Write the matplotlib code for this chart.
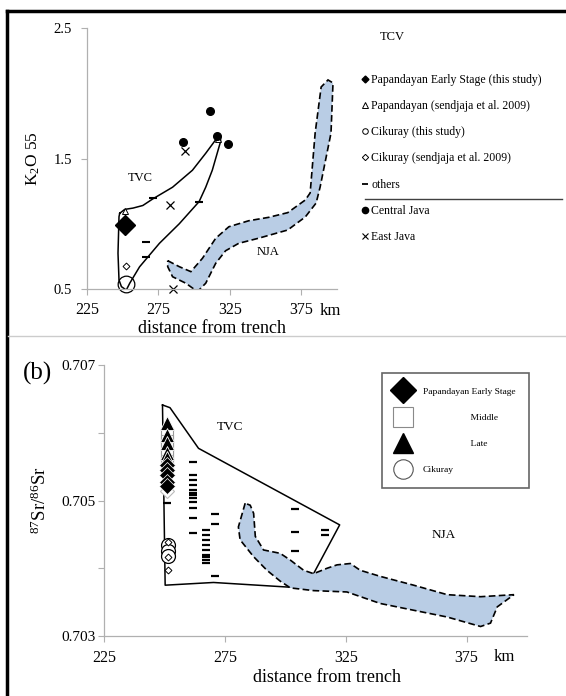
import matplotlib
matplotlib.use("Agg")
import matplotlib.pyplot as plt
from matplotlib.lines import Line2D

plt.rcParams['font.family'] = ['Liberation Serif', 'DejaVu Serif']
plt.rcParams['mathtext.fontset'] = 'custom'
plt.rcParams['mathtext.rm'] = 'Liberation Serif'

# ---------------- panel (a): K2O 55 vs distance from trench ----------------
early_x = [251.4]
early_y = [0.99]
pap_s_x = [251.4, 316.5]          # Papandayan (sendjaja et al. 2009)
pap_s_y = [1.10, 1.65]
cik_x = [252.0]                   # Cikuray (this study)
cik_y = [0.54]
cik_s_x = [252.0]                 # Cikuray (sendjaja et al. 2009)
cik_s_y = [0.68]
oth_x = [266.6, 266.6, 271.5, 303.5]
oth_y = [0.86, 0.745, 1.197, 1.167]
cj_x = [292.3, 311.0, 316.0, 323.6]   # Central Java
cj_y = [1.626, 1.864, 1.673, 1.61]
ej_x = [293.7, 283.3, 285.5]          # East Java
ej_y = [1.557, 1.144, 0.50]

tvc_a_x = [247.9, 251.4, 257.2, 264.1, 271.0, 284.9, 298.8, 308.1, 316.2, 318.5,
           318.5, 312.7, 308.1, 303.5, 289.6, 275.7, 261.8, 254.9, 252.5, 249.1,
           247.4, 246.7, 247.4, 247.9]
tvc_a_y = [1.08, 1.11, 1.12, 1.14, 1.19, 1.28, 1.41, 1.54, 1.66, 1.67,
           1.63, 1.41, 1.28, 1.17, 1.00, 0.85, 0.67, 0.544, 0.492, 0.518,
           0.569, 0.774, 1.054, 1.08]

nja_a_x = [281.5, 289.6, 297.7, 305.8, 315.1, 324.3, 338.2, 352.1, 365.5, 377.8,
           381.2, 384.7, 388.9, 393.7, 397.2, 395.8, 388.2, 385.4, 377.8, 365.5,
           345.1, 331.2, 322.0, 315.1, 308.1, 302.3, 294.2, 284.9, 281.5, 281.5]
nja_a_y = [0.717, 0.671, 0.633, 0.735, 0.889, 0.977, 1.023, 1.049, 1.085, 1.182,
           1.236, 1.695, 2.048, 2.102, 2.079, 1.695, 1.282, 1.159, 1.052, 0.952,
           0.889, 0.850, 0.793, 0.697, 0.544, 0.480, 0.544, 0.594, 0.671, 0.717]

legend_a = ["Papandayan Early Stage (this study)", "Papandayan (sendjaja et al. 2009)",
            "Cikuray (this study)", "Cikuray (sendjaja et al. 2009)", "others",
            "Central Java", "East Java"]

# ---------------- panel (b): 87Sr/86Sr vs distance from trench ----------------
col_x = 251.0
b_tri_y = [0.70614, 0.70596, 0.70585, 0.70570, 0.70562]
b_sq_y = [0.70598, 0.70588, 0.70578, 0.70568, 0.70558, 0.70548]
b_dia_y = [0.70552, 0.70545, 0.70537, 0.70528, 0.70522]
b_dia_s_y = [0.70514]
b_cik_y = [0.70434, 0.70425, 0.70418]
b_cik_s_y = [0.70439, 0.70416, 0.70397]

b_oth_x = [251.0] + [262.0] * 12 + [267.1] * 9 + [271.0] * 3 + [304.1] * 3 + [316.6] * 2
b_oth_y = [0.70497,
           0.70557, 0.70538, 0.70530, 0.70523, 0.70516, 0.70511, 0.70508, 0.70504,
           0.70498, 0.70489, 0.70474, 0.70452,
           0.70456, 0.70449, 0.70442, 0.70434, 0.70427, 0.70420, 0.70417, 0.70412, 0.70408,
           0.70480, 0.70465, 0.70389,
           0.70488, 0.70453, 0.70425,
           0.70456, 0.70449]

tvc_b_x = [249.2, 252.3, 264.1, 322.5, 311.7, 302.1, 270.3, 250.3, 249.2]
tvc_b_y = [0.70641, 0.70637, 0.70577, 0.70464, 0.70392, 0.70372, 0.70379, 0.70375, 0.70641]

nja_b_x = [283.4, 280.6, 281.3, 286.9, 292.4, 297.9, 302.1, 311.7, 325.5, 339.3,
           353.1, 367.0, 380.8, 384.9, 387.7, 394.6, 380.8, 367.0, 353.1, 339.3,
           331.0, 326.9, 321.4, 317.3, 311.7, 307.6, 302.1, 297.9, 291.0, 287.6,
           286.9, 285.5, 283.4]
nja_b_y = [0.70496, 0.70461, 0.70442, 0.70417, 0.70397, 0.70381, 0.70371, 0.70367, 0.70365, 0.70348,
           0.70338, 0.70328, 0.70314, 0.70319, 0.70343, 0.70361, 0.70358, 0.70361, 0.70375, 0.70388,
           0.70397, 0.70407, 0.70405, 0.70400, 0.70392, 0.70397, 0.70412, 0.70422, 0.70427, 0.70447,
           0.70481, 0.70493, 0.70496]

legend_b = ["Papandayan Early Stage", "                    Middle",
            "                    Late", "Cikuray"]

xticks = [225, 275, 325, 375]
nja_color = '#b9cde5'
spine_color = '#b0b0b0'

fig = plt.figure(figsize=(5.66, 6.96), dpi=100)


def style_axes(ax):
    for s in ['top', 'right']:
        ax.spines[s].set_visible(False)
    for s in ['left', 'bottom']:
        ax.spines[s].set_color(spine_color)
        ax.spines[s].set_linewidth(0.9)
    ax.tick_params(colors=spine_color, labelcolor='black', length=4, width=0.8)
    ax.set_xlim(225, 400)
    ax.set_xticks(xticks)


# panel (a)
ax1 = fig.add_axes([87 / 566, 1 - 289 / 696, 250 / 566, 261 / 696])
style_axes(ax1)
ax1.set_ylim(0.5, 2.5)
ax1.set_yticks([0.5, 1.5, 2.5])
ax1.set_yticklabels(['0.5', '1.5', '2.5'])
ax1.tick_params(axis='x', labelsize=11.5, pad=5)
ax1.tick_params(axis='y', labelsize=10.5, pad=7)

ax1.fill(nja_a_x, nja_a_y, facecolor=nja_color, edgecolor='black', ls=(0, (4, 2)), lw=1.2)
ax1.plot(tvc_a_x, tvc_a_y, color='black', lw=1.1)
ax1.plot(early_x, early_y, 'D', color='black', ms=10, clip_on=False)
ax1.plot(pap_s_x, pap_s_y, '^', mfc='white', mec='black', ms=4.5, mew=0.7, clip_on=False)
ax1.plot(cik_x, cik_y, 'o', mfc='none', mec='black', ms=12, mew=0.9, clip_on=False)
ax1.plot(cik_s_x, cik_s_y, 'D', mfc='white', mec='black', ms=3.5, mew=0.7, clip_on=False)
ax1.plot(oth_x, oth_y, '_', color='black', ms=6, mew=1.5, clip_on=False)
ax1.plot(cj_x, cj_y, 'o', color='black', ms=5.5, clip_on=False)
ax1.plot(ej_x, ej_y, 'x', color='black', ms=5.5, mew=0.9, clip_on=False)
ax1.text(262, 1.35, "TVC", fontsize=9, ha='center', va='center')
ax1.text(352, 0.78, "NJA", fontsize=9, ha='center', va='center')
ax1.text(0.972, -0.085, "km", transform=ax1.transAxes, fontsize=12, ha='center', va='center')

ax1.set_ylabel(r"$\mathregular{K_2O}$ 55", fontsize=12.5, labelpad=8)
fig.text(212 / 566, 1 - 329 / 696, "distance from trench", fontsize=13, ha='center', va='center')

# legend for (a), outside the plot on the right
hand_a = [
    Line2D([], [], ls='none', marker='D', color='black', ms=3.5),
    Line2D([], [], ls='none', marker='^', mfc='white', mec='black', ms=4, mew=0.7),
    Line2D([], [], ls='none', marker='o', mfc='white', mec='black', ms=4, mew=0.7),
    Line2D([], [], ls='none', marker='D', mfc='white', mec='black', ms=3.2, mew=0.7),
    Line2D([], [], ls='none', marker='_', color='black', ms=5, mew=1.3),
    Line2D([], [], ls='none', marker='o', color='black', ms=4.5),
    Line2D([], [], ls='none', marker='x', color='black', ms=4.5, mew=0.8),
]
leg_a = fig.legend(hand_a, legend_a, loc='upper left', bbox_to_anchor=(361 / 566, 1 - 74 / 696),
                   frameon=False, fontsize=8.5, handlelength=0.6, handletextpad=0.25,
                   labelspacing=1.2, borderpad=0, borderaxespad=0)
fig.text(380 / 566, 1 - 37 / 696, "TCV", fontsize=9, ha='left', va='center')
fig.add_artist(Line2D([365 / 566, 562 / 566], [1 - 199 / 696] * 2, transform=fig.transFigure,
                      color='#404040', lw=1.0))

# panel (b)
ax2 = fig.add_axes([104 / 566, 1 - 636 / 696, 423 / 566, 271 / 696])
style_axes(ax2)
ax2.set_ylim(0.703, 0.707)
ax2.set_yticks([0.703, 0.704, 0.705, 0.706, 0.707])
ax2.set_yticklabels(['0.703', '', '0.705', '', '0.707'])
ax2.tick_params(axis='x', labelsize=11.5, pad=6)
ax2.tick_params(axis='y', labelsize=11, pad=2)

ax2.plot(tvc_b_x, tvc_b_y, color='black', lw=1.1)
ax2.fill(nja_b_x, nja_b_y, facecolor=nja_color, edgecolor='black', ls=(0, (4, 2)), lw=1.2, zorder=3)
ax2.plot(b_oth_x, b_oth_y, '_', color='black', ms=6, mew=1.6, zorder=4)
ax2.plot([col_x] * len(b_sq_y), b_sq_y, 's', mfc='white', mec='#9a9a9a', ms=9, mew=0.8, zorder=4)
ax2.plot([col_x] * len(b_tri_y), b_tri_y, '^', mfc='black', mec='white', ms=10, mew=0.6, zorder=5)
ax2.plot([col_x] * len(b_dia_s_y), b_dia_s_y, 'D', mfc='white', mec='#bbbbbb', ms=7, mew=0.8, zorder=4)
ax2.plot([col_x] * len(b_dia_y), b_dia_y, 'D', mfc='black', mec='white', ms=8, mew=0.5, zorder=5)
ax2.plot([col_x + 0.5] * len(b_cik_y), b_cik_y, 'o', mfc='white', mec='black', ms=10, mew=0.9, zorder=5)
ax2.plot([col_x + 0.5] * len(b_cik_s_y), b_cik_s_y, 'D', mfc='white', mec='black', ms=3.5, mew=0.7, zorder=6)
ax2.text(277, 0.70609, "TVC", fontsize=9.5, ha='center', va='center')
ax2.text(365.6, 0.70449, "NJA", fontsize=9.5, ha='center', va='center')
ax2.text(0.947, -0.078, "km", transform=ax2.transAxes, fontsize=12, ha='center', va='center')

ax2.set_ylabel(r"$\mathregular{^{87}Sr/^{86}Sr}$", fontsize=13.5, labelpad=8)
fig.text(327 / 566, 1 - 678 / 696, "distance from trench", fontsize=13, ha='center', va='center')
fig.text(37 / 566, 1 - 373 / 696, "(b)", fontsize=18, ha='center', va='center')

hand_b = [
    Line2D([], [], ls='none', marker='D', color='black', ms=13),
    Line2D([], [], ls='none', marker='s', mfc='white', mec='#8a8a8a', ms=14, mew=0.8),
    Line2D([], [], ls='none', marker='^', color='black', ms=14),
    Line2D([], [], ls='none', marker='o', mfc='white', mec='#555555', ms=14, mew=0.8),
]
leg_b = fig.legend(hand_b, legend_b, loc='upper left', bbox_to_anchor=(382 / 566, 1 - 373 / 696),
                   frameon=True, fancybox=False, fontsize=6.8, handlelength=1.45, handletextpad=1.35,
                   labelspacing=1.85, borderpad=1.5, borderaxespad=0)
leg_b.get_frame().set_edgecolor('#404040')
leg_b.get_frame().set_linewidth(1.2)

# page frame and separator
fig.add_artist(Line2D([7 / 566, 7 / 566], [0, 1 - 11 / 696], transform=fig.transFigure, color='black', lw=2.5))
fig.add_artist(Line2D([7 / 566, 1], [1 - 11 / 696] * 2, transform=fig.transFigure, color='black', lw=2.5))
fig.add_artist(Line2D([8 / 566, 1], [1 - 336 / 696] * 2, transform=fig.transFigure, color='#cccccc', lw=1.0))

fig.savefig("out.png", dpi=100)
